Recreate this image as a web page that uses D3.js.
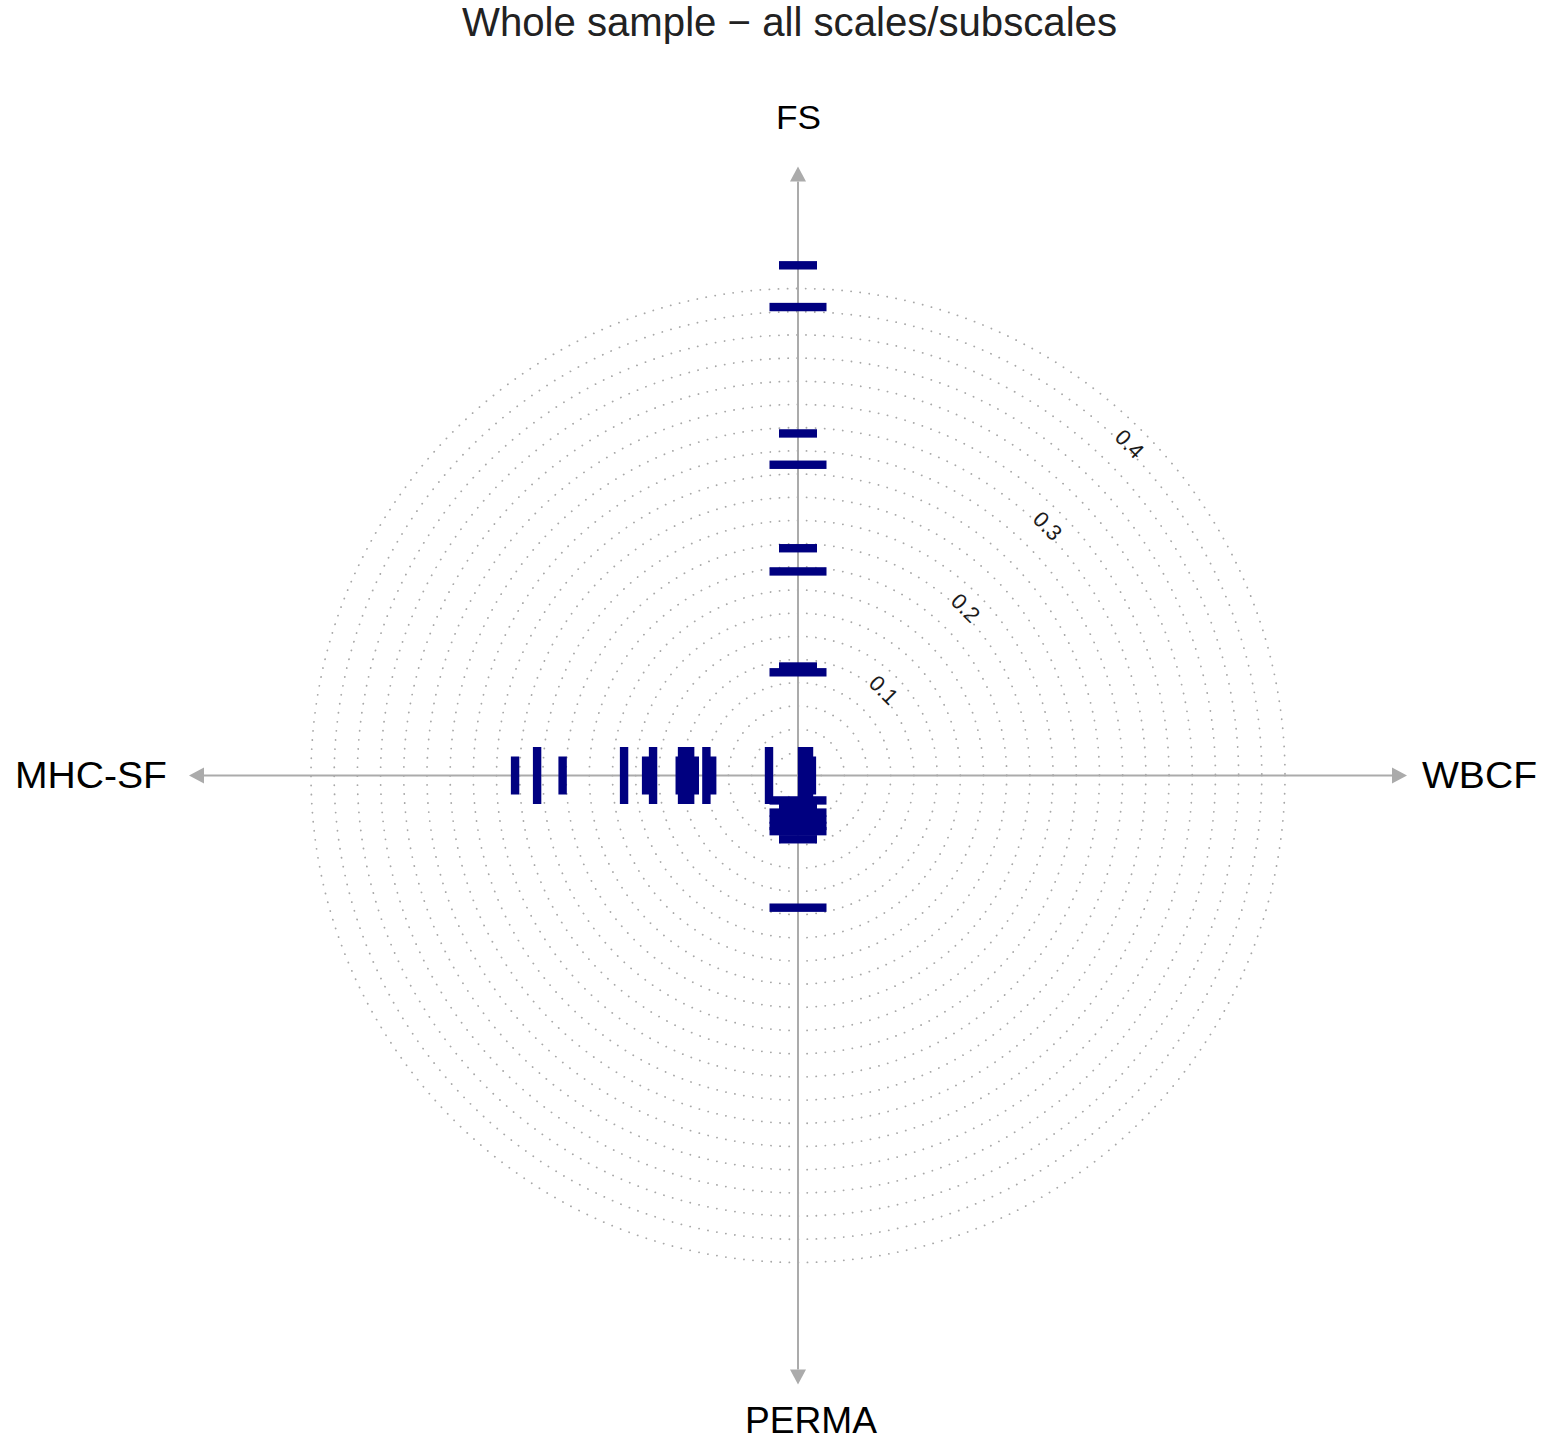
<!DOCTYPE html>
<html>
<head>
<meta charset="utf-8">
<script src="https://cdn.jsdelivr.net/npm/d3@7"></script>
<style>
  body { margin: 0; background: #fff; }
  text { font-family: "Liberation Sans", Arial, sans-serif; }
</style>
</head>
<body>
<div id="chart"></div>
<script>
const FRAME_WIDTH = 1547;
const FRAME_HEIGHT = 1450;
const CX = 798, CY = 775.5;

// axis names, in drawing direction
const AXES = ["FS", "WBCF", "PERMA", "MHC-SF"];
const RING_VALUES = d3.range(1, 22).map(i => i * 0.02);
const TICK_LABELS = [0.1, 0.2, 0.3, 0.4];

// wide bars
const FS_WIDE = [0.404, 0.268, 0.176, 0.089];
const WBCF_WIDE = [0.0035, 0.0095];
const PERMA_WIDE = [0.0215, 0.032, 0.038, 0.0435, 0.048, 0.114];
const MHC_WIDE = [0.225, 0.150, 0.125, 0.100, 0.093, 0.079, 0.025];
// narrow bars
const FS_NARROW = [0.440, 0.295, 0.196, 0.094];
const WBCF_NARROW = [0.012];
const PERMA_NARROW = [0.026, 0.055];
const MHC_NARROW = [0.244, 0.203, 0.131, 0.102, 0.089, 0.074];

// direction unit vectors for each axis
const DIRS = {"FS": [0, -1], "WBCF": [1, 0], "PERMA": [0, 1], "MHC-SF": [-1, 0]};

const r = d3.scaleLinear().domain([0, 0.42]).range([0, 487]);

const SVG = d3.select("#chart")
  .append("svg")
    .attr("width", FRAME_WIDTH)
    .attr("height", FRAME_HEIGHT);

// title
SVG.append("text")
  .attr("x", 789.5).attr("y", 36)
  .attr("text-anchor", "middle")
  .attr("font-size", 40)
  .attr("textLength", 655).attr("lengthAdjust", "spacingAndGlyphs")
  .attr("fill", "#222")
  .text("Whole sample \u2212 all scales/subscales");

// dotted rings
SVG.append("g").selectAll("circle")
  .data(RING_VALUES)
  .enter()
  .append("circle")
    .attr("cx", CX).attr("cy", CY)
    .attr("r", d => r(d))
    .attr("fill", "none")
    .attr("stroke", "#a8a8a8")
    .attr("stroke-width", 1.8)
    .attr("stroke-linecap", "round")
    .attr("stroke-dasharray", "0.1 9");

// axes with arrow heads
const AXIS_LEN = 609, HEAD = 15, HALF = 8;
const axisG = SVG.append("g");
AXES.forEach(a => {
  const [dx, dy] = DIRS[a];
  axisG.append("line")
    .attr("x1", CX).attr("y1", CY)
    .attr("x2", CX + dx * (AXIS_LEN - HEAD)).attr("y2", CY + dy * (AXIS_LEN - HEAD))
    .attr("stroke", "#ababab").attr("stroke-width", 2);
  const tipX = CX + dx * AXIS_LEN, tipY = CY + dy * AXIS_LEN;
  const bx = CX + dx * (AXIS_LEN - HEAD), by = CY + dy * (AXIS_LEN - HEAD);
  const pts = [[tipX, tipY], [bx - dy * HALF, by + dx * HALF], [bx + dy * HALF, by - dx * HALF]];
  axisG.append("polygon")
    .attr("points", pts.map(p => p.join(",")).join(" "))
    .attr("fill", "#ababab");
});

// ring labels along the diagonal
SVG.append("g").selectAll("text")
  .data(TICK_LABELS)
  .enter()
  .append("text")
    .attr("transform", d => {
      const rr = r(d) + 5;
      const x = CX + rr * Math.SQRT1_2, y = CY - rr * Math.SQRT1_2;
      return "translate(" + x + "," + y + ") rotate(45)";
    })
    .attr("text-anchor", "middle")
    .attr("dominant-baseline", "central")
    .attr("font-size", 22)
    .attr("fill", "#1a1a1a")
    .text(d => d.toFixed(1));

// bars perpendicular to their axis
const BAR_T = 8.4;
const bars = [];
[["FS", FS_WIDE, FS_NARROW], ["WBCF", WBCF_WIDE, WBCF_NARROW],
 ["PERMA", PERMA_WIDE, PERMA_NARROW], ["MHC-SF", MHC_WIDE, MHC_NARROW]].forEach(([a, w, n]) => {
  w.forEach(v => bars.push({axis: a, value: v, len: 57}));
  n.forEach(v => bars.push({axis: a, value: v, len: 38}));
});

SVG.append("g").selectAll("rect")
  .data(bars)
  .enter()
  .append("rect")
    .attr("x", d => {
      const [dx] = DIRS[d.axis];
      return dx === 0 ? CX - d.len / 2 : CX + dx * r(d.value) - BAR_T / 2;
    })
    .attr("y", d => {
      const [, dy] = DIRS[d.axis];
      return dy === 0 ? CY - d.len / 2 : CY + dy * r(d.value) - BAR_T / 2;
    })
    .attr("width", d => DIRS[d.axis][0] === 0 ? d.len : BAR_T)
    .attr("height", d => DIRS[d.axis][0] === 0 ? BAR_T : d.len)
    .attr("fill", "#000080");

// axis names
const LABELS = [
  {t: "FS", x: 776, y: 129, len: 45, size: 34},
  {t: "WBCF", x: 1422, y: 788, len: 115, size: 36},
  {t: "PERMA", x: 745, y: 1433, len: 132, size: 37},
  {t: "MHC-SF", x: 15, y: 788, len: 152, size: 36}
];
SVG.append("g").selectAll("text")
  .data(LABELS)
  .enter()
  .append("text")
    .attr("x", d => d.x).attr("y", d => d.y)
    .attr("font-size", d => d.size)
    .attr("textLength", d => d.len).attr("lengthAdjust", "spacingAndGlyphs")
    .attr("fill", "#000")
    .text(d => d.t);
</script>
</body>
</html>
